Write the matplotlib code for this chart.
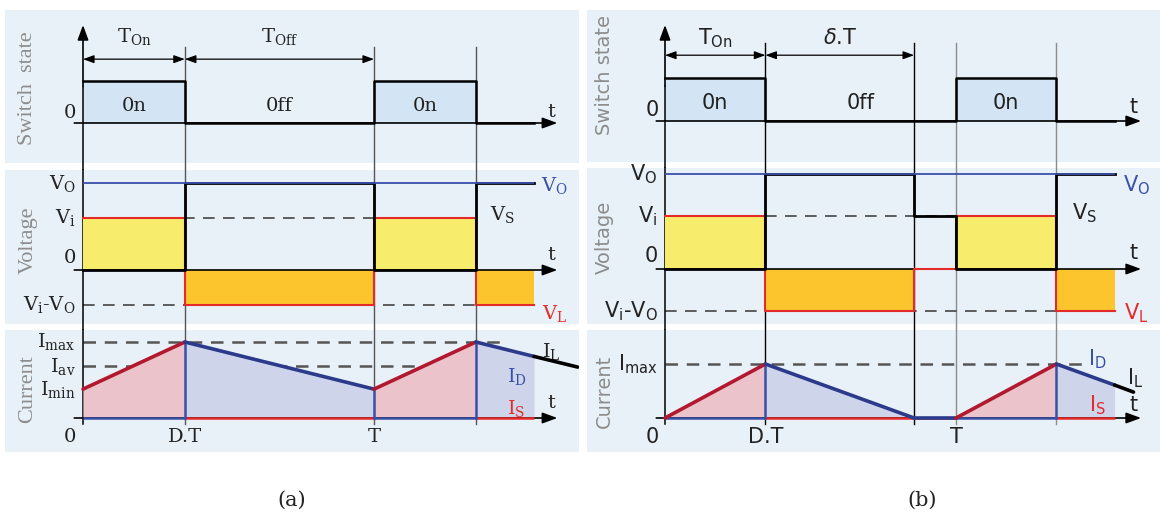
import matplotlib.pyplot as plt

W, H = 1160, 516
XS = 291  # pixels per switching period T

# ---- (a) continuous conduction mode (time in units of T) ----
t_a = [0, 0.35, 1.0, 1.35, 1.55]          # switching instants, last = end of trace
sw_a = [1, 0, 1, 0]                         # switch state in each interval
vs_a = [0, 1.67, 0, 1.67]                   # switch voltage V_S
vl_a = [1, -0.67, 1, -0.67]                 # inductor voltage V_L
il_t_a = [0, 0.35, 1.0, 1.35, 1.55, 1.70]
il_a = [0.38, 1.0, 0.38, 1.0, 0.81, 0.67]   # inductor current I_L
vo_a, vi_a = 1.67, 1.0
imax_a, iav_a, imin_a = 1.0, 0.68, 0.38

# ---- (b) discontinuous conduction mode ----
t_b = [0, 0.345, 0.856, 1.0, 1.345, 1.545]
sw_b = [1, 0, 0, 1, 0]
vs_b = [0, 1.79, 1, 0, 1.79]
vl_b = [1, -0.79, 0, 1, -0.79]
il_t_b = [0, 0.345, 0.856, 1.0, 1.345, 1.545, 1.61]
il_b = [0, 1.0, 0, 0, 1.0, 0.61, 0.48]
vo_b, vi_b = 1.79, 1.0
imax_b = 1.0

BG = "#e9f1f8"
ON_FILL = "#d3e5f5"
YELLOW = "#f7ec6b"
ORANGE = "#fcc52d"
PINK = "#eac3cb"
LAV = "#ced4e9"
RED = "#e52a2a"
DRED = "#b2192f"
NAVY = "#2c3a8c"
BLUE = "#3a4fa8"
GRAY = "#8c8c8c"
INK = "#222222"


def make_ax(fig, box, x0, y0, ys):
    l, t, r, b = box
    ax = fig.add_axes([l / W, 1 - b / H, (r - l) / W, (b - t) / H])
    ax.set_xlim((l - x0) / XS, (r - x0) / XS)
    ax.set_ylim((y0 - b) / ys, (y0 - t) / ys)
    ax.set_facecolor(BG)
    ax.set_xticks([])
    ax.set_yticks([])
    for s in ax.spines.values():
        s.set_visible(False)
    return ax


def frac(box, py):
    return (box[3] - py) / (box[3] - box[1])


def arrow(ax, p1, p2, coords="data", z=3, lw=1.2):
    ax.annotate("", xy=p2, xytext=p1, xycoords=coords, textcoords=coords,
                arrowprops=dict(arrowstyle="-|>,head_length=0.6,head_width=0.22",
                                mutation_scale=15, color="k", lw=lw,
                                shrinkA=0, shrinkB=0),
                zorder=z, annotation_clip=False)


def vmarks(ax, ts, cols, lo, hi):
    tr = ax.get_xaxis_transform()
    for tt, c in zip(ts, cols):
        ax.plot([tt, tt], [lo, hi], transform=tr, color=c, lw=1.0,
                clip_on=False, zorder=1.5)


def draw_case(fig, c):
    t, sw, vs, vl, il_t, il = c["t"], c["sw"], c["vs"], c["vl"], c["il_t"], c["il"]
    x0, font, side, tip = c["x0"], c["font"], c["side"], c["tip"]
    fs = c["fs"]
    marks = t[1:-1]

    # ---------------- switch state ----------------
    box = c["boxes"][0]
    ax = make_ax(fig, box, x0, *c["scales"][0])
    st = sw + sw[-1:]
    ax.fill_between(t, 0, st, step="post", color=ON_FILL, lw=0, zorder=1)
    vmarks(ax, marks, c["vcols"], -0.1, frac(box, c["mark_top"]))
    ax.plot([0, 0], [-0.1, 0.5], transform=ax.get_xaxis_transform(),
            color="k", lw=1.1, clip_on=False, zorder=2)
    arrow(ax, (0, 0.5), (0, frac(box, 25)), coords=ax.get_xaxis_transform())
    arrow(ax, (-0.03, 0), (tip, 0))
    ax.step(t, st, where="post", color="k", lw=1.8, zorder=4)
    for i, s in enumerate(sw):
        if s:
            ax.text((t[i] + t[i + 1]) / 2, c["on_y"], "0n", ha="center",
                    va="center", fontsize=fs, family=font, color=INK)
    ax.text((t[1] + 1.0) / 2, c["on_y"], "0ff", ha="center", va="center",
            fontsize=fs, family=font, color=INK)
    dy = c["dim_y"]
    for a, b_ in [(0, t[1]), (t[1], c["dim_end"])]:
        ax.annotate("", xy=(b_, dy), xytext=(a, dy),
                    arrowprops=dict(arrowstyle="<|-|>,head_length=0.55,head_width=0.2",
                                    mutation_scale=12, color="k", lw=0.9,
                                    shrinkA=0, shrinkB=0))
    ax.text(t[1] / 2, c["dim_lab_y"], r"$\mathregular{T_{On}}$", ha="center",
            va="center", fontsize=fs, family=font, color=INK)
    ax.text((t[1] + c["dim_end"]) / 2, c["dim_lab_y"], c["dim2"], ha="center",
            va="center", fontsize=fs, family=font, color=INK)
    ax.text(-0.045, c["zero_y"][0], "0", ha="center", va="center",
            fontsize=fs, family=font, color=INK)
    ax.text(1.61, c["t_y"][0], "t", ha="center", va="center", fontsize=fs,
            family=font, color=INK)

    # ---------------- voltage ----------------
    box = c["boxes"][1]
    ax = make_ax(fig, box, x0, *c["scales"][1])
    vo, vi = c["vo"], c["vi"]
    vmarks(ax, marks, c["vcols"], -0.1, 1)
    ax.plot([0, 0], [-0.1, 1], transform=ax.get_xaxis_transform(),
            color="k", lw=1.1, clip_on=False, zorder=2)
    ax.hlines([vi, vi - vo], 0, t[-2], colors="#444444", lw=1.2,
              linestyles=(0, (7, 5)), zorder=1.6)
    for i, v in enumerate(vl):
        if v != 0:
            ax.fill_between([t[i], t[i + 1]], 0, v, color=YELLOW if v > 0 else ORANGE,
                            lw=0, zorder=2)
    arrow(ax, (-0.03, 0), (tip, 0), z=2.5)
    ax.step(t, vl + vl[-1:], where="post", color=RED, lw=1.5, zorder=3)
    ax.step(t, vs + vs[-1:], where="post", color="k", lw=2.0, zorder=4)
    ax.hlines(vo, 0, t[-1], colors=BLUE, lw=1.3, zorder=5)
    for y, s in [(vo, r"$\mathregular{V_O}$"), (vi, r"$\mathregular{V_i}$"),
                 (c["zero_y"][1], "0"),
                 (vi - vo, r"$\mathregular{V_i}$-$\mathregular{V_O}$")]:
        ax.text(-0.025, y, s, ha="right", va="center", fontsize=fs,
                family=font, color=INK)
    ax.text(1.62, c["vo_lab"], r"$\mathregular{V_O}$", ha="center", va="center",
            fontsize=fs, family=font, color=BLUE)
    ax.text(1.44, c["vs_lab"], r"$\mathregular{V_S}$", ha="center", va="center",
            fontsize=fs, family=font, color=INK)
    ax.text(1.62, c["vl_lab"], r"$\mathregular{V_L}$", ha="center", va="center",
            fontsize=fs, family=font, color=RED)
    ax.text(1.61, c["t_y"][1], "t", ha="center", va="center", fontsize=fs,
            family=font, color=INK)

    # ---------------- current ----------------
    box = c["boxes"][2]
    ax = make_ax(fig, box, x0, *c["scales"][2])
    vmarks(ax, marks, c["vcols"], frac(box, 424), 1)
    ax.plot([0, 0], [frac(box, 424), 1], transform=ax.get_xaxis_transform(),
            color="k", lw=1.1, clip_on=False, zorder=2)
    ax.hlines([lv for lv, _ in c["ilev"]], 0, 1.44, colors="#555555", lw=1.8,
              linestyles=(0, (5, 3.5)), zorder=1.6)
    for i in range(len(il_t) - 2):
        if il[i] == il[i + 1] == 0:
            continue
        ax.fill_between(il_t[i:i + 2], 0, il[i:i + 2],
                        color=PINK if il[i + 1] > il[i] else LAV, lw=0, zorder=2)
    arrow(ax, (-0.03, 0), (tip, 0), z=2.5)
    for i, s in enumerate(sw):
        ax.hlines(0, t[i], t[i + 1], colors=BLUE if s else RED, lw=1.8, zorder=3)
    for tt, v in zip(il_t[1:-2], il[1:-2]):
        ax.plot([tt, tt], [0, v], color=BLUE, lw=1.8, zorder=3)
    for i in range(len(il_t) - 1):
        if i == len(il_t) - 2:
            col = "k"
        elif il[i + 1] > il[i]:
            col = DRED
        else:
            col = NAVY
        ax.plot(il_t[i:i + 2], il[i:i + 2], color=col, lw=2.6, zorder=4,
                solid_capstyle="round")
    for lv, s in c["ilev"]:
        ax.text(-0.025, lv, s, ha="right", va="center", fontsize=fs,
                family=font, color=INK)
    zy = c["zero_y"][2]
    ax.text(-0.045, zy, "0", ha="center", va="center", fontsize=fs,
            family=font, color=INK)
    ax.text(t[1], zy, "D.T", ha="center", va="center", fontsize=fs,
            family=font, color=INK)
    ax.text(1.0, zy, "T", ha="center", va="center", fontsize=fs,
            family=font, color=INK)
    for (x, y), s, col in c["ilabs"]:
        ax.text(x, y, s, ha="center", va="center", fontsize=fs, family=font,
                color=col)

    # side titles
    for py, s in zip(c["side_y"], c["side_txt"]):
        fig.text(c["side_x"] / W, 1 - py / H, s, rotation=90, ha="center",
                 va="center", fontsize=c["side_fs"], family=side, color=GRAY)
    fig.text(c["cap_x"] / W, 1 - 500 / H, c["cap"], ha="center", va="center",
             fontsize=15, family="DejaVu Serif", color=INK)


case_a = dict(
    t=t_a, sw=sw_a, vs=vs_a, vl=vl_a, il_t=il_t_a, il=il_a, vo=vo_a, vi=vi_a,
    x0=83, tip=1.63, font="DejaVu Serif", side="Liberation Serif", fs=14,
    boxes=[(5, 10, 579, 163), (5, 170, 579, 324), (5, 330, 579, 452)],
    scales=[(123, 42), (270, 52), (418, 76)],
    vcols=["#555555"] * 3, mark_top=47, on_y=0.4, dim_y=1.52, dim_lab_y=2.05,
    dim_end=1.0, dim2=r"$\mathregular{T_{Off}}$",
    zero_y=[0.24, 0.23, -0.25], t_y=[0.26, 0.29, 0.2],
    vo_lab=1.62, vs_lab=1.06, vl_lab=-0.83,
    ilev=[(imax_a, r"$\mathregular{I_{max}}$"), (iav_a, r"$\mathregular{I_{av}}$"),
          (imin_a, r"$\mathregular{I_{min}}$")],
    ilabs=[((1.61, 0.87), r"$\mathregular{I_L}$", INK),
           ((1.49, 0.54), r"$\mathregular{I_D}$", BLUE),
           ((1.49, 0.13), r"$\mathregular{I_S}$", RED),
           ((1.61, 0.2), "t", INK)],
    side_x=28, side_y=[88, 240, 389], side_fs=16,
    side_txt=["Switch  state", "Voltage", "Current"], cap="(a)", cap_x=292,
)

case_b = dict(
    t=t_b, sw=sw_b, vs=vs_b, vl=vl_b, il_t=il_t_b, il=il_b, vo=vo_b, vi=vi_b,
    x0=665, tip=1.636, font="DejaVu Sans", side="DejaVu Sans", fs=15,
    boxes=[(587, 10, 1160, 162), (587, 168, 1160, 324), (587, 330, 1160, 452)],
    scales=[(121, 43), (269, 53), (418, 54)],
    vcols=["k", "k", GRAY, GRAY], mark_top=43, on_y=0.42, dim_y=1.53, dim_lab_y=1.93,
    dim_end=t_b[2], dim2=r"$\delta$.T",
    zero_y=[0.26, 0.25, -0.35], t_y=[0.33, 0.3, 0.24],
    vo_lab=1.58, vs_lab=1.06, vl_lab=-0.83,
    ilev=[(imax_b, r"$\mathregular{I_{max}}$")],
    ilabs=[((1.485, 1.09), r"$\mathregular{I_D}$", BLUE),
           ((1.615, 0.74), r"$\mathregular{I_L}$", INK),
           ((1.485, 0.24), r"$\mathregular{I_S}$", RED),
           ((1.61, 0.24), "t", INK)],
    side_x=604, side_y=[75, 237, 391], side_fs=14,
    side_txt=["Switch state", "Voltage", "Current"], cap="(b)", cap_x=922,
)

fig = plt.figure(figsize=(11.6, 5.16), dpi=100)
draw_case(fig, case_a)
draw_case(fig, case_b)
fig.savefig("out.png", dpi=100)
